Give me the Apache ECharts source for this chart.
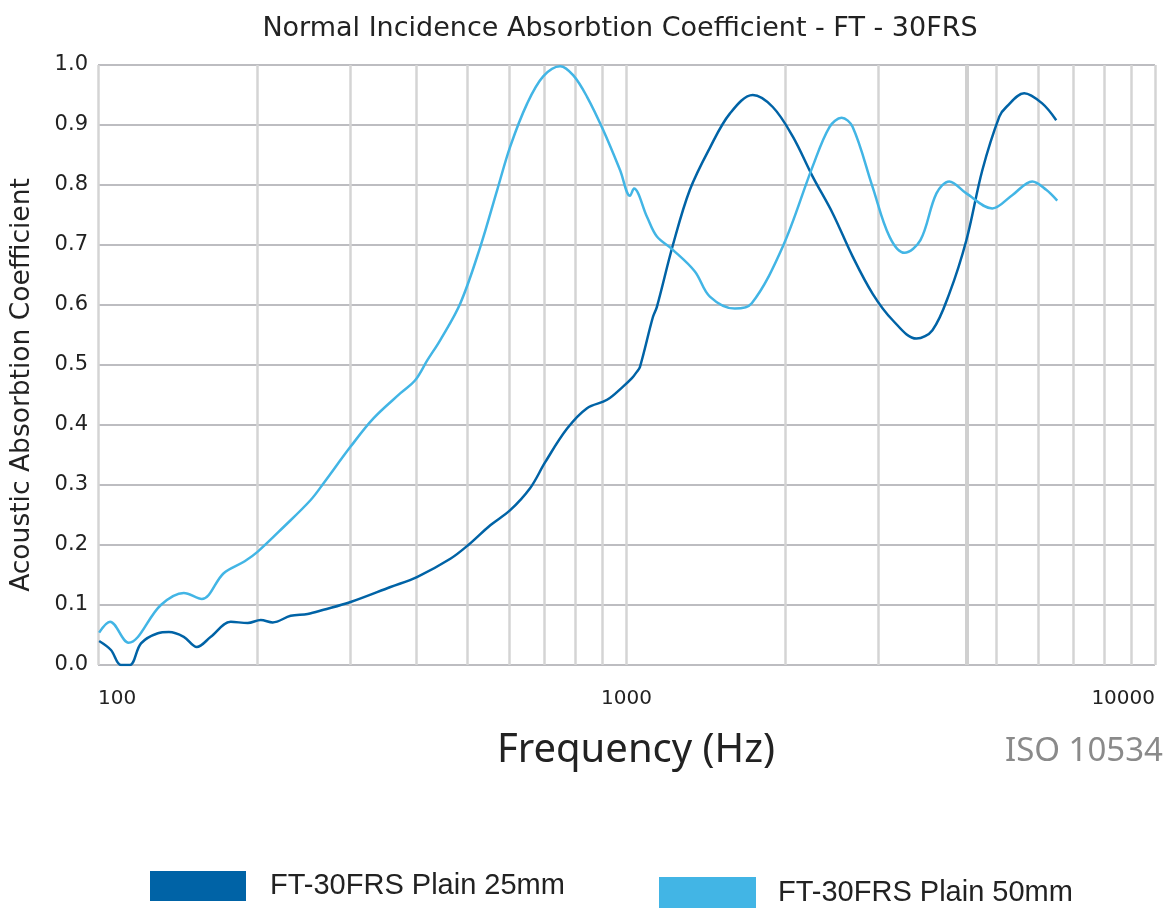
<!DOCTYPE html>
<html>
<head>
<meta charset="utf-8">
<script src="https://cdn.jsdelivr.net/npm/echarts/dist/echarts.min.js"></script>
<style>
html,body{margin:0;padding:0;background:#fff;}
#chart{width:1170px;height:908px;}
</style>
</head>
<body>
<div id="chart"></div>
<script>
// ---- data ----
var titleText = 'Normal Incidence Absorbtion Coefficient - FT - 30FRS';
var yAxisTitle = 'Acoustic Absorbtion Coefficient';
var xAxisTitle = 'Frequency (Hz)';
var standardText = 'ISO 10534';
var seriesNames = ['FT-30FRS Plain 25mm', 'FT-30FRS Plain 50mm'];

var freq25 = [100.5,105.8,110.5,114.9,120.6,129.8,136.2,145.3,153.8,163.5,178.3,192,203.2,214.1,231.5,249.3,267.2,300.6,357.6,402.2,464.2,502,552.4,602.5,657.4,701.7,772,842,918.8,984.9,1024,1046.7,1060.5,1122,1141.6,1224,1318,1438,1568.6,1733.6,1891.2,2063,2250.5,2454.7,2677.7,2921,3186.5,3537.4,3792.4,4081.4,4396.1,4713.8,5075.3,5232,5656,6117,6503];
var values25 = [0.04,0.025,0.0,0.0,0.036,0.053,0.055,0.047,0.03,0.047,0.072,0.07,0.075,0.071,0.082,0.085,0.092,0.105,0.13,0.147,0.177,0.2,0.233,0.258,0.295,0.338,0.394,0.428,0.442,0.464,0.478,0.489,0.497,0.58,0.597,0.70,0.792,0.862,0.919,0.95,0.93,0.881,0.814,0.753,0.681,0.619,0.575,0.544,0.558,0.619,0.708,0.825,0.914,0.93,0.953,0.936,0.908];

var freq50 = [100.5,105.4,114.2,131.5,145.3,157.2,172.9,189.5,200.6,224.5,252.6,267.2,300.6,332,373.5,398.6,420,444.5,484.9,528.9,569.4,602.5,648.9,695.6,748.9,792.5,842,903,972.2,1015.3,1033.1,1093.2,1141.6,1224.1,1347,1438,1603,1726,1975,2250.5,2422.8,2552.6,2677.7,2921,3145,3357.5,3599,3859,4081.4,4396,4922,5368,5857,6225,6531];
var values50 = [0.054,0.072,0.037,0.1,0.12,0.11,0.153,0.173,0.189,0.23,0.275,0.303,0.364,0.411,0.453,0.475,0.508,0.542,0.603,0.697,0.792,0.864,0.936,0.981,0.998,0.983,0.947,0.892,0.825,0.782,0.794,0.747,0.714,0.692,0.656,0.614,0.594,0.603,0.697,0.831,0.897,0.912,0.897,0.797,0.714,0.687,0.708,0.786,0.806,0.786,0.761,0.783,0.806,0.792,0.774];

var xMin = 100, xMax = 10000;
var yMin = 0, yMax = 1, yInterval = 0.1;
var minorGridFreqs = [200,300,400,500,600,700,800,900,2000,3000,4400,5000,6000,7000,8000,9000];

// ---- chart ----
function pairs(xs, ys){ return xs.map(function(x,i){ return [x, ys[i]]; }); }

var chart = echarts.init(document.getElementById('chart'), null, {renderer:'canvas'});
var baseFont = 'DejaVu Sans, Verdana, sans-serif';
var legendFont = 'Liberation Sans, Arial, sans-serif';

var option = {
  animation: false,
  backgroundColor: '#ffffff',
  title: {
    text: titleText,
    left: 615, top: 10, textAlign: 'center',
    textStyle: {fontFamily: baseFont, fontWeight: 'normal', fontSize: 27, color: '#222'}
  },
  grid: {left: 98, right: 15, top: 65, bottom: 243, containLabel: false},
  xAxis: {
    type: 'log', logBase: 10, min: xMin, max: xMax,
    axisLine: {show: false}, axisTick: {show: false},
    axisLabel: {
      fontFamily: baseFont, fontSize: 20, color: '#222', margin: 24,
      alignMinLabel: 'left', alignMaxLabel: 'right',
      formatter: function(v){ return String(Math.round(v)); }
    },
    splitLine: {show: true, lineStyle: {color: '#d4d4d4', width: 2.5}}
  },
  yAxis: {
    type: 'value', min: yMin, max: yMax, interval: yInterval,
    axisLine: {show: false}, axisTick: {show: false},
    axisLabel: {fontFamily: baseFont, fontSize: 21, color: '#222', margin: 10,
      formatter: function(v){ return v.toFixed(1); }},
    splitLine: {show: true, lineStyle: {color: '#bdbdc1', width: 2}}
  },
  legend: [
    {data: [seriesNames[0]], left: 150, top: 871, padding: 0, icon: 'rect',
     itemWidth: 96, itemHeight: 30,
     textStyle: {fontFamily: legendFont, fontSize: 29, color: '#222', padding: [0,0,0,19]}},
    {data: [seriesNames[1]], left: 659, top: 877, padding: 0, icon: 'rect',
     itemWidth: 97, itemHeight: 31,
     textStyle: {fontFamily: legendFont, fontSize: 29, color: '#222', padding: [0,0,0,17]}}
  ],
  graphic: [
    {type: 'text', x: 22, y: 385, rotation: Math.PI/2, silent: true,
     style: {text: yAxisTitle, fontFamily: baseFont, fontSize: 26.5, fill: '#222', align: 'center', verticalAlign: 'middle'}},
    {type: 'text', x: 636, y: 751, silent: true,
     style: {text: xAxisTitle, fontFamily: 'Noto Sans, Open Sans, sans-serif', fontSize: 40, fill: '#222', align: 'center', verticalAlign: 'middle'}},
    {type: 'text', x: 1163, y: 752, silent: true,
     style: {text: standardText, fontFamily: 'Noto Sans, Open Sans, sans-serif', fontSize: 33, fill: '#8a8a8a', align: 'right', verticalAlign: 'middle'}}
  ],
  series: [
    {
      name: seriesNames[0], type: 'line', data: pairs(freq25, values25),
      smooth: 0.35, showSymbol: false, symbol: 'none', z: 3,
      color: '#0063a6',
      lineStyle: {color: '#0063a6', width: 2.5},
      markLine: {
        silent: true, symbol: 'none', z: 1, animation: false,
        label: {show: false}, emphasis: {disabled: true},
        lineStyle: {color: '#d4d4d4', width: 2.5, type: 'solid'},
        data: minorGridFreqs.map(function(f){
          return f === 4400 ? {xAxis: f, lineStyle: {color: '#d0d0d0', width: 4, type: 'solid'}} : {xAxis: f};
        })
      }
    },
    {
      name: seriesNames[1], type: 'line', data: pairs(freq50, values50),
      smooth: 0.35, showSymbol: false, symbol: 'none', z: 3,
      color: '#42b5e5',
      lineStyle: {color: '#42b5e5', width: 2.5}
    }
  ]
};
chart.setOption(option);
</script>
</body>
</html>
